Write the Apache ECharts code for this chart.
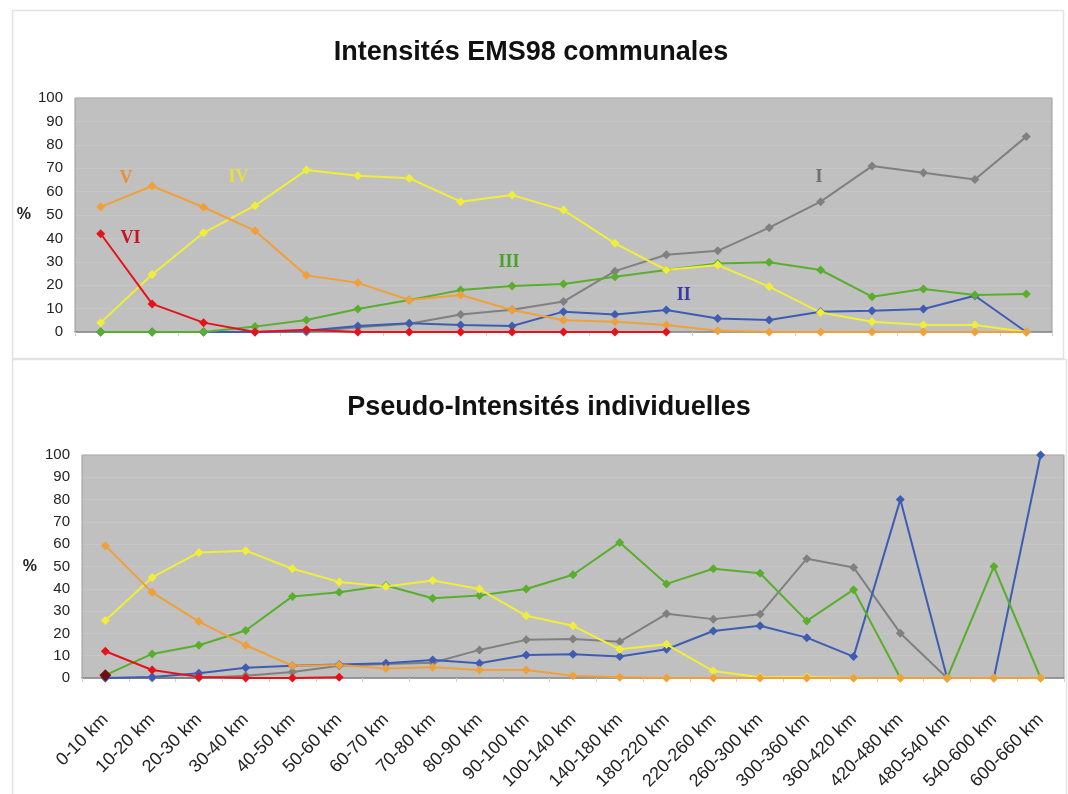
<!DOCTYPE html>
<html>
<head>
<meta charset="utf-8">
<script src="https://cdn.jsdelivr.net/npm/echarts@6/dist/echarts.min.js"></script>
<style>
html,body{margin:0;padding:0;background:#fff;}
#c{width:1068px;height:794px;}
</style>
</head>
<body>
<div id="c"></div>
<script>
// ---- data ----
const titleTop = 'Intensités EMS98 communales';
const titleBottom = 'Pseudo-Intensités individuelles';
const categoriesTop = ['0-10 km','10-20 km','20-30 km','30-40 km','40-50 km','50-60 km','60-70 km','70-80 km','80-90 km','90-100 km','100-140 km','140-180 km','180-220 km','220-260 km','260-300 km','300-360 km','360-420 km','420-480 km','480-540 km'];
const categories = ['0-10 km','10-20 km','20-30 km','30-40 km','40-50 km','50-60 km','60-70 km','70-80 km','80-90 km','90-100 km','100-140 km','140-180 km','180-220 km','220-260 km','260-300 km','300-360 km','360-420 km','420-480 km','480-540 km','540-600 km','600-660 km'];
const yTicks = [0,10,20,30,40,50,60,70,80,90,100];

const topI   = [0,0,0,0,0,2,3.5,7.5,9.5,13,26,33,34.7,44.6,55.7,70.9,68.1,65.2,83.5];
const topII  = [0,0,0,0,0.5,2.6,3.7,3,2.6,8.7,7.5,9.4,5.8,5.1,8.7,9.1,9.8,15.5,0];
const topIII = [0,0,0,2.3,5.1,9.8,13.7,17.9,19.7,20.5,23.6,26.5,29.3,29.8,26.5,15.1,18.4,15.8,16.2];
const topIV  = [4,24.6,42.4,54,69.2,66.8,65.7,55.7,58.5,52.1,37.9,26.5,28.6,19.4,8.3,4.4,3,3,0];
const topV   = [53.5,62.4,53.3,43.3,24.2,21,13.7,15.8,9.4,5,4.4,3,0.5,0,0,0,0,0,0];
const topVI  = [42,12,4,0,1,0,0,0,0,0,0,0,null,null,null,null,null,null,null];

const botI   = [0,0,0,1,2.7,5.5,6.3,6.8,12.6,17.1,17.5,16.3,28.8,26.4,28.6,53.5,49.6,20.1,0,null,null];
const botII  = [0,0.5,2.1,4.6,5.5,6,6.6,8.1,6.6,10.3,10.6,9.6,12.9,21.1,23.4,18.1,9.6,80,0,0,100];
const botIII = [1.3,10.8,14.7,21.3,36.6,38.5,41.5,35.8,37,39.9,46.3,60.8,42.2,49,47,25.6,39.6,0,0,50,0];
const botIV  = [25.8,45.1,56.3,57.1,49,43.1,41,43.7,39.9,27.9,23.4,12.9,15.1,3.1,0.3,0.5,0,0,0,0,0];
const botV   = [59.3,38.4,25.3,14.7,5.5,5.8,4.3,4.8,3.6,3.6,1,0.3,0,0,0,0,0,0,0,0,0];
const botVI  = [12,3.6,0.5,0,0,0.3,null,null,null,null,null,null,null,null,null,null,null,null,null,null,null];
const botVII = [1.2,null,null,null,null,null,null,null,null,null,null,null,null,null,null,null,null,null,null,null,null];

// roman numeral annotations (category index, value)
const annoTop = [
  {text:'V',   x:0.49, y:65.8, color:'#e8902f'},
  {text:'IV',  x:2.68, y:66.2, color:'#e6df3c'},
  {text:'VI',  x:0.58, y:40.2, color:'#c8141e'},
  {text:'III', x:7.94, y:29.9, color:'#4aa02a'},
  {text:'II',  x:11.34,y:15.8, color:'#3a3aa8'},
  {text:'I',   x:13.97,y:66.2, color:'#707070'}
];

// ---- styles ----
const colors = {I:'#808080', II:'#3d5db2', III:'#5aae2e', IV:'#f0ee3a', V:'#f0a03a', VI:'#e4131b', VII:'#6e0f12'};
const FONT = 'Liberation Sans, Arial, sans-serif';

function lineSeries(name, data, color, gi, extra){
  return Object.assign({
    name: name, type:'line', data: data, xAxisIndex: gi, yAxisIndex: gi,
    symbol:'diamond', symbolSize: 9, clip:false,
    lineStyle:{color: color, width: 2},
    itemStyle:{color: color},
    emphasis:{disabled:true},
    animation:false
  }, extra||{});
}

function yAxisDef(gi, gap){
  return {
    type:'value', gridIndex: gi, min:0, max:100, interval:10,
    name:'%', nameLocation:'middle', nameRotate:0, nameGap: gap,
    nameTextStyle:{fontFamily:FONT, fontWeight:'bold', fontSize:16, color:'#222'},
    axisLine:{show:false}, axisTick:{show:false},
    axisLabel:{fontFamily:FONT, fontSize:15, color:'#222', margin:12},
    splitLine:{show:true, lineStyle:{color:'rgba(255,255,255,0.10)', width:1}}
  };
}

const option = {
  backgroundColor:'#fff',
  animation:false,
  title:[
    {text:titleTop, left:526, top:34, textAlign:'center', textStyle:{fontFamily:FONT, fontWeight:'bold', fontSize:27, color:'#111'}},
    {text:titleBottom, left:544, top:389, textAlign:'center', textStyle:{fontFamily:FONT, fontWeight:'bold', fontSize:27, color:'#111'}}
  ],
  graphic:[
    {type:'rect', shape:{x:12.5, y:10.5, width:1051, height:348}, style:{fill:'none', stroke:'#e2e2e2', lineWidth:1.5}, z:-10},
    {type:'rect', shape:{x:12.5, y:359.5, width:1054, height:440}, style:{fill:'none', stroke:'#e2e2e2', lineWidth:1.5}, z:-10}
  ],
  grid:[
    {left:75, right:16, top:98, bottom:462, show:true, backgroundColor:'#c0c0c0', borderColor:'#9a9a9a', borderWidth:1},
    {left:82, right:4, top:455, bottom:116, show:true, backgroundColor:'#c0c0c0', borderColor:'#9a9a9a', borderWidth:1}
  ],
  xAxis:[
    {type:'category', gridIndex:0, data:categoriesTop, boundaryGap:true,
     axisLine:{lineStyle:{color:'#8a8a8a', width:1.5}},
     axisTick:{show:true, length:4, lineStyle:{color:'#d0d0d0'}},
     axisLabel:{show:false}},
    {type:'category', gridIndex:1, data:categories, boundaryGap:true,
     axisLine:{lineStyle:{color:'#8a8a8a', width:1.5}},
     axisTick:{show:true, length:4, lineStyle:{color:'#d0d0d0'}},
     axisLabel:{rotate:45, fontFamily:FONT, fontSize:18, color:'#222', margin:39, interval:0}}
  ],
  yAxis:[ yAxisDef(0, 44), yAxisDef(1, 45) ],
  series:[
    lineSeries('I', topI, colors.I, 0),
    lineSeries('II', topII, colors.II, 0),
    lineSeries('III', topIII, colors.III, 0),
    lineSeries('IV', topIV, colors.IV, 0),
    lineSeries('V', topV, colors.V, 0),
    lineSeries('VI', topVI, colors.VI, 0),
    lineSeries('I', botI, colors.I, 1),
    lineSeries('II', botII, colors.II, 1),
    lineSeries('III', botIII, colors.III, 1),
    lineSeries('IV', botIV, colors.IV, 1),
    lineSeries('V', botV, colors.V, 1),
    lineSeries('VI', botVI, colors.VI, 1),
    lineSeries('VII', botVII, colors.VII, 1, {symbolSize:12})
  ]
};

const chart = echarts.init(document.getElementById('c'), null, {renderer:'canvas'});
chart.setOption(option);

// place roman numeral labels through the axes' own scales
function toPixel(xi, yv){
  const lo = Math.floor(xi), hi = Math.ceil(xi);
  const pLo = chart.convertToPixel({xAxisIndex:0, yAxisIndex:0}, [lo, yv]);
  const pHi = chart.convertToPixel({xAxisIndex:0, yAxisIndex:0}, [hi, yv]);
  const t = xi - lo;
  return [pLo[0] + (pHi[0]-pLo[0])*t, pLo[1]];
}
const extra = annoTop.map(a => {
  const p = toPixel(a.x, a.y);
  return {type:'text', x:p[0], y:p[1], z:50,
    style:{text:a.text, fill:a.color, font:'bold 18px "Liberation Serif", "Times New Roman", serif', align:'center', verticalAlign:'middle'}};
});
chart.setOption({graphic: option.graphic.concat(extra)});
</script>
</body>
</html>
